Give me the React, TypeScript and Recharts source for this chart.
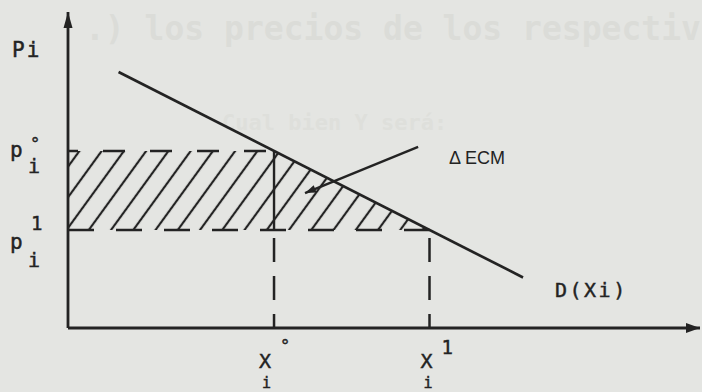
import React from 'react';
import {
  ComposedChart, XAxis, YAxis, Area, Line, ReferenceLine,
} from 'recharts';

// demand curve D(Xi), two end points in (quantity, price)
const demandCurve = [
  { x: 8, p: 81 },
  { x: 72, p: 16 },
];

// initial and final price / quantity
const priceTicks = [31, 56];
const quantityTicks = [32.6, 57.2];

// consumer surplus gain between p1 and p0, bounded by the demand curve
const surplusBand = [
  { x: 0, band: [31, 56] },
  { x: 32.6, band: [31, 56] },
  { x: 57.2, band: [31, 31] },
];

// callout pointing into the hatched band
const calloutArrow = [
  { x: 55.4, y: 57.3 },
  { x: 37.5, y: 42.7 },
];

const priceLabels: Record<number, { sup: string; sub: string }> = {
  56: { sup: '°', sub: 'i' },
  31: { sup: '1', sub: 'i' },
};
const quantityLabels = [
  { sup: '°', sub: 'i' },
  { sup: '1', sub: 'i' },
];

const INK = '#232323';
const PAPER = '#e4e5e2';
const MONO = '"DejaVu Sans Mono", "Liberation Mono", monospace';

function arrowHead(x1: number, y1: number, x2: number, y2: number, len: number, half: number) {
  const a = Math.atan2(y2 - y1, x2 - x1);
  const bx = x2 - len * Math.cos(a);
  const by = y2 - len * Math.sin(a);
  const nx = -Math.sin(a) * half;
  const ny = Math.cos(a) * half;
  return `${x2},${y2} ${bx + nx},${by + ny} ${bx - nx},${by - ny}`;
}

function ArrowLine(props: any) {
  const { x1, y1, x2, y2, strokeWidth = 2.6, head = 15, half = 4.5 } = props;
  return (
    <g>
      <line x1={x1} y1={y1} x2={x2} y2={y2} stroke={INK} strokeWidth={strokeWidth} />
      <polygon points={arrowHead(x1, y1, x2, y2, head, half)} fill={INK} />
    </g>
  );
}

// typed labels get a thin outline so they read as inked characters
const typed = { fill: INK, stroke: INK, strokeWidth: 0.45, fontFamily: MONO };

function PriceTick(props: any) {
  const { y, payload } = props;
  const lab = priceLabels[payload.value];
  if (!lab) return null;
  const isTop = lab.sup === '°';
  return (
    <g {...typed}>
      {isTop ? (
        <>
          <text x={10} y={y + 6} fontSize={21}>p</text>
          <text x={30} y={y - 1} fontSize={17}>°</text>
          <text x={28} y={y + 22} fontSize={20}>i</text>
        </>
      ) : (
        <>
          <text x={31} y={y} fontSize={19}>1</text>
          <text x={10} y={y + 19} fontSize={21}>p</text>
          <text x={28} y={y + 37} fontSize={20}>i</text>
        </>
      )}
    </g>
  );
}

function QuantityTick(props: any) {
  const { x, index } = props;
  const lab = quantityLabels[index] ?? quantityLabels[0];
  const left = x - 12 + (index === 1 ? 3 : -3);
  return (
    <g {...typed}>
      <text x={left} y={368} fontSize={20}>X</text>
      <text x={left + 21} y={lab.sup === '°' ? 352 : 354} fontSize={lab.sup === '°' ? 17 : 19}>{lab.sup}</text>
      <text x={left + 3} y={387.5} fontSize={15}>{lab.sub}</text>
    </g>
  );
}

export default function App() {
  return (
    <div style={{ position: 'fixed', left: 0, top: 0, width: 702, height: 392, background: PAPER, overflow: 'hidden' }}>
      {/* faint show-through from the facing page */}
      <svg width={702} height={392} style={{ position: 'absolute', left: 0, top: 0 }}>
        <text x={85} y={40} fontFamily={MONO} fontWeight="bold" fontSize={33} fill="#dbdcd8">
          .) los precios de los respectiv
        </text>
        <text x={222} y={130} fontFamily={MONO} fontWeight="bold" fontSize={22} fill="#dedfdb">
          Cual bien  Y  será:
        </text>
      </svg>
      <div style={{ position: 'absolute', left: 0, top: 0 }}>
        <ComposedChart width={702} height={392} margin={{ top: 12, right: 2, bottom: 0, left: 0 }}>
          <defs>
            <pattern id="hatch" patternUnits="userSpaceOnUse" width={18} height={12} patternTransform="rotate(36)">
              <line x1={9} y1={0} x2={9} y2={12} stroke={INK} strokeWidth={2.2} />
            </pattern>
          </defs>
          <XAxis
            type="number"
            dataKey="x"
            domain={[0, 100]}
            ticks={quantityTicks}
            interval={0}
            axisLine={false}
            tickLine={false}
            height={64}
            tick={(p: any) => <QuantityTick {...p} />}
            allowDataOverflow
          />
          <YAxis
            type="number"
            domain={[0, 100]}
            ticks={priceTicks}
            interval={0}
            width={68}
            axisLine={false}
            tickLine={false}
            tick={(p: any) => <PriceTick {...p} />}
            allowDataOverflow
          />

          <Area
            data={surplusBand}
            dataKey="band"
            type="linear"
            stroke="none"
            fill="url(#hatch)"
            fillOpacity={1}
            isAnimationActive={false}
          />

          {/* band edges: dashed at both price levels */}
          <ReferenceLine
            segment={[{ x: 0, y: 56 }, { x: 32.6, y: 56 }]}
            stroke={INK}
            strokeWidth={2.5}
            strokeDasharray="22 25"
            strokeDashoffset={12}
            ifOverflow="visible"
          />
          <ReferenceLine
            segment={[{ x: 0, y: 31 }, { x: 57.2, y: 31 }]}
            stroke={INK}
            strokeWidth={2.5}
            strokeDasharray="26 22"
            ifOverflow="visible"
          />

          {/* X° through the band, then dashed down to the axis */}
          <ReferenceLine segment={[{ x: 32.6, y: 56 }, { x: 32.6, y: 31 }]} stroke={INK} strokeWidth={2.4} ifOverflow="visible" />
          <ReferenceLine
            segment={[{ x: 32.6, y: 31 }, { x: 32.6, y: 0 }]}
            stroke={INK}
            strokeWidth={2.5}
            strokeDasharray="24 14"
            strokeDashoffset={30}
            ifOverflow="visible"
          />
          <ReferenceLine
            segment={[{ x: 57.2, y: 31 }, { x: 57.2, y: 0 }]}
            stroke={INK}
            strokeWidth={2.5}
            strokeDasharray="24 14"
            strokeDashoffset={30}
            ifOverflow="visible"
          />

          <Line
            data={demandCurve}
            dataKey="p"
            type="linear"
            stroke={INK}
            strokeWidth={2.7}
            dot={false}
            activeDot={false}
            isAnimationActive={false}
          />

          {/* axes with arrow heads */}
          <ReferenceLine
            segment={[{ x: 0, y: 0 }, { x: 0, y: 100 }]}
            ifOverflow="visible"
            shape={(p: any) => <ArrowLine {...p} strokeWidth={2.8} head={16} half={4.5} />}
          />
          <ReferenceLine
            segment={[{ x: 0, y: 0 }, { x: 100, y: 0 }]}
            ifOverflow="visible"
            shape={(p: any) => <ArrowLine {...p} strokeWidth={2.8} head={14} half={5} />}
          />

          <ReferenceLine
            segment={calloutArrow}
            ifOverflow="visible"
            shape={(p: any) => <ArrowLine {...p} strokeWidth={2.4} head={11} half={4} />}
          />

          <text x={12} y={57} fontSize={21} letterSpacing={2} {...typed}>Pi</text>
          <text x={555} y={297} fontSize={20} letterSpacing={2.5} {...typed}>D(Xi)</text>
          <text x={449} y={164} fontFamily='"Liberation Sans", Arial, sans-serif' fontSize={18} fill={INK}>
            Δ<tspan dx={4}>ECM</tspan>
          </text>
        </ComposedChart>
      </div>
    </div>
  );
}
